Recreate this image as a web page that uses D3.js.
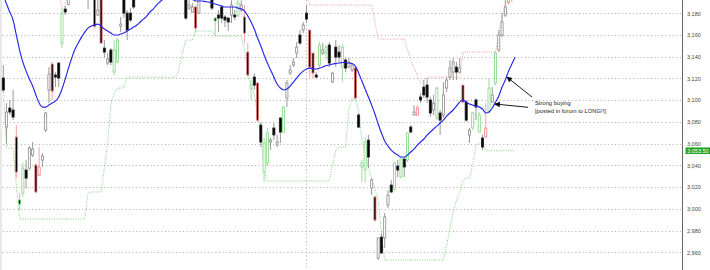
<!DOCTYPE html>
<html>
<head>
<meta charset="utf-8">
<script src="https://cdn.jsdelivr.net/npm/d3@7"></script>
<style>
  body { margin: 0; background: #fff; }
  svg { display: block; }
  .axis text { font-family: "Liberation Sans", Arial, sans-serif; font-size: 5.5px; fill: #444; }
  .note { font-family: "Liberation Sans", Arial, sans-serif; font-size: 5.8px; fill: #222; }
</style>
</head>
<body>
<div id="chart"></div>
<script>
//data
const opens = [3120.4,3075.3,3092.8,3091,3066.1,3008.1,3014.5,3035.7,3037.5,3049.5,
  3040.3,3031.1,3044.9,3072.5,3109.4,3133.3,3123.2,3134.2,3152.6,3183.9,
  3188,3200,3212,3220,3214,3222,3210,3196,3204,3178.4,
  3196,3148,3134.2,3146.2,3125.9,3135.1,3168.3,3195,3180.2,3180.2,
  3194,3194,3202,3210,3218,3212,3224,3232,3226,3236,
  3230,3222,3228,3218,3210,3214,3200,3184.8,3181.2,3185.8,
  3180.2,3196,3204,3198,3198,3175.6,3178.4,3185.8,3176.6,3175.6,
  3178.4,3178.4,3178.4,3183,3176.6,3144.3,3111,3121.3,3115.8,3077.1,
  3033.9,3042.2,3061.5,3074.4,3058.7,3083.6,3070.7,3102,3125,3132.4,
  3143.4,3160,3164.6,3180.2,3164.6,3143.4,3123.2,3132.4,3143.4,3143.4,
  3150.8,3116.7,3148.9,3144.3,3130.5,3137,3130.5,3127.8,3129.6,3086.3,
  3038.5,3035.7,3063.3,3019.1,3010.9,2954.7,2974,2973.1,3003.5,3021.9,
  3019.1,3039.4,3029.3,3045.8,3044.9,3075.3,3086.3,3086.3,3102.9,3112.1,
  3114,3100.2,3091,3083.6,3088.2,3086.3,3111.2,3121.3,3125.9,3130.5,
  3125.9,3113.9,3098.3,3067.9,3074.4,3100.2,3070.7,3065.2,3066.1,3089.1,
  3098.3,3115.8,3146.2,3160,3178.4,3190,3200,3197];

const highs = [3132.4,3097.4,3100.2,3109.4,3077.1,3014.5,3042.2,3044.9,3057.8,3061.5,
  3042.2,3056.9,3051.4,3089.1,3130.5,3135.1,3125.9,3135.1,3184.8,3186.7,
  3206,3216,3225,3226,3228,3225,3214,3208,3206,3194,
  3199,3155.4,3143.4,3148,3155.4,3157.2,3176.6,3198,3183,3184.8,
  3196,3206,3214,3222,3224,3228,3236,3238,3240,3242,
  3234,3232,3232,3222,3218,3218,3203,3192,3189.4,3187.6,
  3199,3208,3210,3206,3202,3176.6,3183,3187.6,3178.4,3176.6,
  3192,3183,3192.2,3192,3187.6,3152.6,3118.6,3125,3116.7,3079.9,
  3065.2,3074.4,3065.2,3079,3068,3084.5,3094.6,3118.6,3132.4,3138.8,
  3153.5,3164.6,3172,3187.6,3164.6,3143.4,3125.9,3153.5,3152.6,3150.8,
  3153.5,3125.9,3155.4,3150.8,3151.7,3138.8,3138.8,3134.2,3130.5,3088.2,
  3044.9,3066.1,3068,3028.3,3012.7,2974,2977.7,2996.1,3017.3,3026.5,
  3043.1,3044.9,3047.7,3047.7,3070.7,3077.1,3095.5,3095.5,3106.6,3118.6,
  3120.4,3102.9,3104.8,3112.1,3091,3116.7,3121.3,3137,3138.8,3135.1,
  3138.8,3113.9,3100.2,3074.4,3089.1,3102,3089.1,3068,3097.4,3120.4,
  3112.1,3144.3,3164.6,3180.2,3192.2,3205,3206,3210];

const lows = [3107.5,3060,3086.3,3081.7,3028.3,2998.9,3010.9,3019.1,3035.7,3047.7,
  3014.5,3030.2,3038.5,3070.7,3097.4,3100.2,3112.1,3112.1,3148,3178.4,
  3187,3197,3208,3210,3209,3200,3184,3194,3166,3177.5,
  3151.7,3138.8,3132.4,3132.4,3123.2,3134.2,3162.7,3176,3155.4,3172,
  3183.9,3193,3198,3206,3208,3209,3220,3222,3222,3226,
  3216,3216,3212,3204,3204,3196,3173.8,3183,3180.2,3162.7,
  3179.3,3193,3194,3194,3183,3159,3162.7,3171,3167.3,3163.7,
  3171,3173.8,3176.6,3181.2,3152.6,3121.3,3100.2,3109.4,3079.9,3056.9,
  3024.7,3039.4,3054.1,3063.3,3056.9,3060.6,3069.8,3093.7,3123.2,3130.5,
  3138.8,3150.8,3161.8,3171,3121.3,3120.4,3120.4,3130.5,3141.6,3137,
  3130.5,3115.8,3130.5,3135.1,3116.7,3125.9,3129.6,3125.9,3100.2,3074.4,
  3024.7,3024.7,3037.5,3012.7,2987.9,2952.9,2959.3,2963.9,3000.7,3014.5,
  3016.4,3029.3,3028.3,3029.3,3043.1,3069.8,3086.3,3086.3,3097.4,3102,
  3097.4,3084.5,3086.3,3081.7,3068,3083.6,3107.5,3118.6,3118.6,3118.6,
  3125,3097.4,3079.9,3060.6,3072.5,3081.7,3070.7,3054.1,3066.1,3088.2,
  3097.4,3113.9,3144.3,3158.1,3176.6,3188,3190,3195];

const closes = [3109.4,3089.1,3089.1,3084.5,3033.9,3004.4,3037.5,3028.3,3056,3055,
  3015.5,3038.5,3048.6,3088.2,3124.1,3108.4,3121.3,3120.4,3180.2,3181.2,
  3200,3212,3220,3214,3222,3210,3196,3204,3168,3183,
  3152.6,3144.3,3137.9,3135.1,3146.2,3155.4,3170.1,3180.2,3164.6,3173.8,
  3185.8,3202,3210,3218,3212,3224,3232,3226,3236,3230,
  3222,3228,3218,3210,3214,3200,3175.6,3187.6,3185.8,3166.4,
  3196,3204,3198,3202,3184.8,3172.9,3175.6,3175.6,3173.8,3172,
  3187.6,3176.6,3189.4,3187.6,3161.8,3123.2,3114,3113.9,3081.7,3061.5,
  3060.6,3069.8,3063.3,3068,3061.5,3070.7,3093.7,3115.8,3127.8,3135.1,
  3148.9,3152.6,3169.2,3174.7,3130.5,3125,3121.3,3150.8,3146.2,3148.9,
  3134.2,3125,3139.7,3139.7,3148.9,3129.6,3135.1,3132.4,3102,3075.3,
  3042.2,3061.5,3047.7,3026.5,2989.7,2973.1,2959.3,2992.5,3012.7,3015.5,
  3042.2,3035.7,3046.8,3038.5,3069.8,3070.7,3089.1,3092.8,3100.2,3104.8,
  3102.9,3088.2,3097.4,3111.2,3081.7,3104.8,3118.6,3129.6,3135.1,3125.9,
  3129.6,3098.3,3081.7,3072.5,3088.2,3093.7,3086.3,3056.9,3074.4,3111.2,
  3104.8,3143.4,3160,3172,3185.8,3198,3196,3205];

// k = plain, r = red outline, g = green outline
const edges = ("kkkkrggkkk" + "rrkkkrkkgk" + "rkkkkkkkrk" + "rkkkggkkkk" + "kkkkkkkkkk" +
  "kkkkkkkkkr" + "kkkkkgkkkk" + "kkgkrrgkrk" + "ggkkkkgkkk" + "kkkkrrkgkg" +
  "kkkkgkkkrk" + "ggkkrkkkkk" + "gkgkgkkrkk" + "kkkgkkkkkk" + "krkkgkgkrg" +
  "kgkkkrrk").split("");

const movingAvg = [3196.8,3188.5,3181.2,3173.8,3160,3146.2,3135.1,3126.8,3119.5,3113,
  3104.8,3097.4,3093.7,3093.7,3095.5,3097.4,3099.2,3102.9,3110.3,3119.5,
  3129.6,3138.8,3147.1,3152.6,3158.1,3162.7,3166.4,3168.3,3169.2,3170.1,
  3168.3,3165.5,3163.7,3161.8,3160,3160,3160.9,3161.8,3163.7,3165.5,
  3167.3,3169.2,3172,3174.7,3177.5,3181.2,3183.9,3187.6,3190.4,3193.1,
  3195,3197,3198,3199,3199,3198,3196.5,3195,3193,3191.3,
  3191.3,3191.3,3190.8,3190.4,3189.4,3188.5,3187.6,3186.7,3185.8,3185.8,
  3185.8,3185.8,3184.8,3183.9,3182.1,3177.5,3172,3165.5,3157.2,3149.9,
  3141.6,3134.2,3127.8,3121.3,3114.9,3111.2,3109.4,3110.3,3113,3116.7,
  3120.4,3124.1,3126.8,3128.7,3129.6,3129.1,3128.7,3129.6,3130.5,3131.9,
  3132.4,3133.3,3133.8,3134.2,3134.7,3134.7,3134.2,3133.8,3131.4,3125,
  3117.6,3110.3,3102.9,3095.5,3087.3,3078.1,3069.8,3062.4,3057.8,3054.1,
  3051.4,3049.5,3047.7,3047.7,3049.5,3052.3,3055,3058.7,3061.5,3064.3,
  3067.9,3070.7,3073.5,3076.2,3079,3081.7,3085.4,3088.2,3091,3094.6,
  3098.3,3100.2,3098.3,3096.5,3095.5,3094.6,3093.7,3091.9,3088.2,3089.1,
  3092.8,3098.3,3103.8,3112.1,3118.6,3126.8,3133.3,3139.7];

const upperBand = [3200,3200,3200,3200,3200,3200,3200,3200,3200,3200,
  3200,3200,3200,3200,3200,3200,3200,3200,3184.8,3186.7,
  3200,3200,3200,3200,3200,3200,3200,3200,3200,3200,
  3200,3200,3200,3200,3200,3200,3200,3200,3200,3200,
  3200,3200,3200,3200,3200,3200,3200,3200,3200,3200,
  3200,3200,3200,3200,3200,3200,3200,3200,3200,3200,
  3200,3200,3200,3200,3200,3200,3200,3200,3200,3200,
  3200,3200,3200,3200,3200,3200,3200,3200,3200,3200,
  3200,3200,3200,3200,3200,3200,3200,3200,3200,3200,
  3200,3200,3200,3200,3187.6,3187.6,3187.6,3187.6,3187.6,3187.6,
  3187.6,3187.6,3187.6,3187.6,3187.6,3187.6,3187.6,3187.6,3187.6,3187.6,
  3187.6,3187.6,3187.6,3187.6,3172,3156.3,3156.3,3156.3,3156.3,3156.3,
  3156.3,3156.3,3156.3,3156.3,3146.2,3137,3129.6,3123.2,3115.8,3118.6,
  3121.3,3121.3,3121.3,3121.3,3121.3,3121.3,3121.3,3121.3,3121.3,3121.3,
  3121.3,3144.3,3144.3,3144.3,3144.3,3144.3,3144.3,3144.3,3144.3,3144.3,
  3144.3,3144.3,3160,3178.4,3188.5,3191.3,3200,3205];

const lowerBand = [3109.4,3056,3056,3056,3021.9,2990.6,2990.6,2990.6,2990.6,2990.6,
  2990.6,2990.6,2990.6,2990.6,2990.6,2990.6,2990.6,2990.6,2990.6,2990.6,
  2990.6,2990.6,2990.6,2990.6,2990.6,2990.6,3014.5,3015.5,3015.5,3015.5,
  3015.5,3037.5,3060.6,3095.5,3106.6,3111.2,3111.2,3111.2,3121.3,3121.3,
  3121.3,3121.3,3121.3,3121.3,3121.3,3121.3,3121.3,3121.3,3121.3,3121.3,
  3121.3,3121.3,3121.3,3121.3,3129.6,3144.3,3155.4,3155.4,3155.4,3163.7,
  3163.7,3163.7,3163.7,3163.7,3163.7,3159,3159,3159,3159,3159,
  3159,3159,3159,3159,3146.2,3125.9,3114,3104.8,3086.3,3067.9,
  3036.6,3025.6,3025.6,3025.6,3025.6,3025.6,3025.6,3025.6,3025.6,3025.6,
  3025.6,3025.6,3025.6,3025.6,3025.6,3025.6,3025.6,3025.6,3025.6,3025.6,
  3025.6,3040.3,3054.1,3056.9,3056.9,3056.9,3091,3102,3100.2,3091,
  3063.3,3051.4,3038.5,3026.5,3019.1,3008.1,2977.7,2952.9,2952.9,2952.9,
  2952.9,2952.9,2952.9,2952.9,2952.9,2952.9,2952.9,2952.9,2952.9,2952.9,
  2952.9,2952.9,2952.9,2952.9,2952.9,2952.9,2966.7,2982.3,2997.1,3008.1,
  3014.5,3026.5,3028.3,3028.3,3040.3,3058.7,3060.6,3060.6,3053.5,3053.5,
  3053.5,3053.5,3053.5,3053.5,3053.5,3053.5,3053.5,3053.5];

const yTicks = [2960,2980,3000,3020,3040,3060,3080,3100,3120,3140,3160,3180];
const separators = [93];
const lastBandValue = 3053.5;
const notes = [
  { tipIndex: 154.5, tipValue: 3121.3, tail: [532, 97] },
  { tipIndex: 150.8, tipValue: 3096.5, tail: [528, 107.3] }
];
const noteLines = ["Strong buying", "[posted in forum to LONG!!]"];

//constants
const width = 710, height = 270, plotRight = 682.5;
const edgeColor = { k: "#8c8c8c", r: "#f07a7a", g: "#80d880" };
const wickColor = { k: "#8c8c8c", r: "#f29a9a", g: "#8edc8e" };

const candles = d3.range(opens.length).map(i => ({
  i, o: opens[i], h: highs[i], l: lows[i], c: closes[i], e: edges[i]
}));

const xScale = d3.scaleLinear().domain([0, 157]).range([3.3, 515.1]);
const yScale = d3.scaleLinear().domain([2960, 3180]).range([252.3, 13.3]);

const svg = d3.select("#chart").append("svg")
  .attr("width", width).attr("height", height);

svg.append("defs").append("clipPath").attr("id", "plot")
  .append("rect").attr("x", 0).attr("y", 0).attr("width", plotRight).attr("height", height);

svg.append("defs").append("marker")
  .attr("id", "head").attr("viewBox", "0 0 10 10")
  .attr("refX", 9).attr("refY", 5)
  .attr("markerWidth", 7).attr("markerHeight", 5.5)
  .attr("markerUnits", "userSpaceOnUse")
  .attr("orient", "auto")
  .append("path").attr("d", "M0,0 L10,5 L0,10 Z").attr("fill", "#000");

// left border strip
svg.append("rect").attr("x", 0).attr("y", 0).attr("width", 2).attr("height", height).attr("fill", "#e8e8e8");

// grid
svg.append("g").selectAll("line").data(yTicks).join("line")
  .attr("x1", 3).attr("x2", plotRight)
  .attr("y1", d => Math.round(yScale(d)) + 0.5).attr("y2", d => Math.round(yScale(d)) + 0.5)
  .attr("stroke", "#aaa").attr("stroke-dasharray", "1,2.6");

svg.append("g").selectAll("line").data(separators).join("line")
  .attr("x1", d => Math.round(xScale(d)) + 0.5).attr("x2", d => Math.round(xScale(d)) + 0.5)
  .attr("y1", 0).attr("y2", height)
  .attr("stroke", "#aaa").attr("stroke-dasharray", "1,2.6");

const plot = svg.append("g").attr("clip-path", "url(#plot)");

// bands
const bandLine = d3.line().x((d, i) => xScale(i)).y(d => yScale(d));
plot.append("path").datum(upperBand).attr("d", bandLine)
  .attr("fill", "none").attr("stroke", "#f08a8a").attr("stroke-width", 0.9).attr("stroke-dasharray", "1,1.4");
plot.append("path").datum(lowerBand).attr("d", bandLine)
  .attr("fill", "none").attr("stroke", "#6fcf6f").attr("stroke-width", 0.9).attr("stroke-dasharray", "1,1.4");

// candles
const candle = plot.selectAll(".candle").data(candles).join("g").attr("class", "candle");
candle.append("line")
  .attr("x1", d => xScale(d.i)).attr("x2", d => xScale(d.i))
  .attr("y1", d => yScale(d.h)).attr("y2", d => yScale(d.l))
  .attr("stroke", d => wickColor[d.e]).attr("stroke-width", 0.9);
candle.append("rect")
  .attr("x", d => xScale(d.i) - 1.05)
  .attr("width", 2.1)
  .attr("y", d => yScale(Math.max(d.o, d.c)))
  .attr("height", d => Math.max(1, Math.abs(yScale(d.o) - yScale(d.c))))
  .attr("fill", d => d.c < d.o ? "#000" : "#fff")
  .attr("stroke", d => d.e === "k" && d.c < d.o ? "#222" : edgeColor[d.e])
  .attr("stroke-width", 0.8);

// moving average
plot.append("path").datum(movingAvg)
  .attr("d", d3.line().x((d, i) => xScale(i)).y(d => yScale(d)).curve(d3.curveMonotoneX))
  .attr("fill", "none").attr("stroke", "#2626e8").attr("stroke-width", 1.15);

// axis
const yAxis = d3.axisRight(yScale).tickValues(yTicks).tickSize(0).tickPadding(4.5).tickFormat(d3.format(","));
const axisG = svg.append("g").attr("class", "axis")
  .attr("transform", `translate(${plotRight},0)`).call(yAxis);
axisG.select(".domain").remove();
svg.append("line").attr("x1", plotRight).attr("x2", plotRight).attr("y1", 0).attr("y2", height)
  .attr("stroke", "#666").attr("stroke-width", 1);

// last band value tag
const tagY = yScale(lastBandValue);
svg.append("rect").attr("x", 685.5).attr("y", tagY - 3.3).attr("width", 24.5).attr("height", 6.6).attr("fill", "#22a322");
svg.append("text").attr("x", 687.2).attr("y", tagY).attr("dy", "0.35em")
  .attr("font-family", "Liberation Sans, Arial, sans-serif").attr("font-size", 5.5).attr("fill", "#fff")
  .text(d3.format(",.2f")(lastBandValue));

// annotation
svg.selectAll(".arrow").data(notes).join("line").attr("class", "arrow")
  .attr("x1", d => d.tail[0]).attr("y1", d => d.tail[1])
  .attr("x2", d => xScale(d.tipIndex)).attr("y2", d => yScale(d.tipValue))
  .attr("stroke", "#000").attr("stroke-width", 0.9).attr("marker-end", "url(#head)");
svg.selectAll(".note").data(noteLines).join("text").attr("class", "note")
  .attr("x", 535).attr("y", (d, i) => 105 + i * 7.5).text(d => d);
</script>
</body>
</html>
